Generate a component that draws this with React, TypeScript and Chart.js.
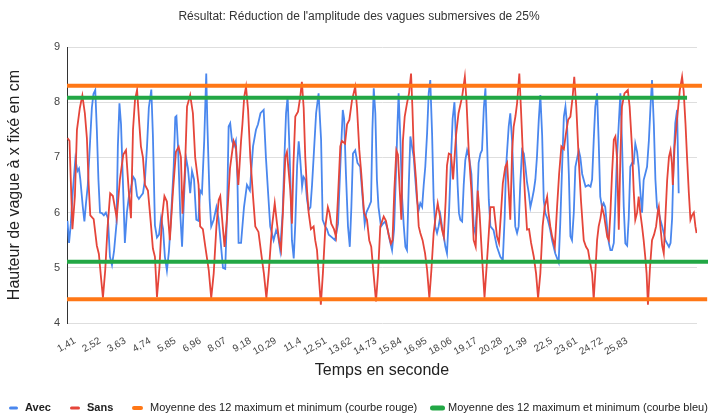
import React, { useEffect, useRef } from "react";
import { Chart, registerables } from "chart.js";

Chart.register(...registerables);

const SUBTITLE = "Résultat: Réduction de l'amplitude des vagues submersives de 25%";
const X_TITLE = "Temps en seconde";
const Y_TITLE = "Hauteur de vague à x fixé en cm";

const LEGEND_LABELS = [
  "Avec",
  "Sans",
  "Moyenne des 12 maximum et minimum (courbe rouge)",
  "Moyenne des 12 maximum et minimum (courbe bleu)",
];

const tickValues = [1.41, 2.52, 3.63, 4.74, 5.85, 6.96, 8.07, 9.18, 10.29, 11.4, 12.51, 13.62, 14.73, 15.84, 16.95, 18.06, 19.17, 20.28, 21.39, 22.5, 23.61, 24.72, 25.83];
const tickLabels = ["1,41", "2,52", "3,63", "4,74", "5,85", "6,96", "8,07", "9,18", "10,29", "11,4", "12,51", "13,62", "14,73", "15,84", "16,95", "18,06", "19,17", "20,28", "21,39", "22,5", "23,61", "24,72", "25,83"];

const X_MIN = 1.06;
const X_MAX = 28.93;
const Y_MIN = 4;
const Y_MAX = 9;

// [temps (s), hauteur (cm)]
const avecPoints: [number, number][] = [
  [1.08, 5.85], [1.15, 5.45], [1.23, 5.8], [1.32, 6.4], [1.43, 6.97], [1.52, 6.75], [1.59, 6.8], [1.65, 6.6], [1.76, 6.1], [1.83, 5.84],
  [1.90, 6.17], [1.98, 6.5], [2.07, 7.2], [2.16, 7.9], [2.23, 8.15], [2.31, 8.22], [2.38, 7.5], [2.45, 6.6], [2.52, 6.0], [2.60, 5.99],
  [2.69, 5.95], [2.78, 6.0], [2.87, 5.9], [2.96, 5.2], [3.05, 5.05], [3.14, 5.3], [3.25, 5.8], [3.31, 7.2], [3.38, 7.98], [3.45, 7.6],
  [3.53, 6.6], [3.62, 5.45], [3.71, 6.0], [3.80, 6.3], [3.89, 6.45], [3.99, 6.65], [4.07, 6.6], [4.16, 6.3], [4.24, 6.25], [4.33, 6.3],
  [4.42, 6.35], [4.51, 6.6], [4.60, 7.2], [4.68, 7.9], [4.79, 8.23], [4.86, 7.4], [4.95, 5.77], [5.04, 5.55], [5.13, 5.6], [5.22, 5.9],
  [5.31, 5.7], [5.39, 5.2], [5.48, 4.95], [5.57, 5.3], [5.66, 5.9], [5.78, 6.83], [5.85, 7.73], [5.90, 7.75], [5.97, 7.2], [6.07, 5.99],
  [6.15, 5.38], [6.23, 6.2], [6.32, 7.01], [6.41, 6.8], [6.51, 6.35], [6.59, 6.75], [6.68, 6.6], [6.78, 5.87], [6.87, 5.85], [6.95, 6.4],
  [7.03, 6.35], [7.13, 7.3], [7.22, 8.52], [7.27, 7.6], [7.37, 6.23], [7.44, 5.75], [7.55, 5.87], [7.67, 6.1], [7.76, 5.9], [7.85, 5.5],
  [7.96, 5.0], [8.06, 4.98], [8.14, 6.0], [8.21, 7.56], [8.28, 7.62], [8.36, 7.3], [8.45, 7.2], [8.53, 7.3], [8.60, 6.6], [8.65, 5.45],
  [8.76, 5.45], [8.89, 6.1], [9.02, 6.5], [9.15, 6.4], [9.29, 7.2], [9.42, 7.5], [9.51, 7.6], [9.62, 7.8], [9.76, 7.86], [9.86, 7.0],
  [9.95, 6.4], [10.05, 5.75], [10.20, 5.5], [10.31, 5.68], [10.39, 5.6], [10.49, 5.32], [10.60, 6.0], [10.69, 7.13], [10.75, 7.8], [10.82, 8.1],
  [10.88, 7.4], [10.95, 6.5], [11.01, 5.5], [11.09, 5.17], [11.16, 5.8], [11.24, 6.85], [11.31, 7.29], [11.38, 6.95], [11.46, 6.47], [11.52, 6.65],
  [11.60, 6.6], [11.68, 6.23], [11.75, 6.05], [11.83, 6.1], [11.90, 6.5], [11.97, 7.0], [12.08, 7.8], [12.19, 8.16], [12.30, 7.32], [12.37, 5.87],
  [12.48, 5.75], [12.56, 5.7], [12.64, 5.6], [12.78, 5.55], [12.92, 5.5], [13.05, 5.8], [13.15, 6.83], [13.26, 7.86], [13.32, 7.7], [13.40, 6.7],
  [13.49, 5.75], [13.57, 5.38], [13.64, 6.1], [13.71, 7.07], [13.81, 7.13], [13.91, 6.9], [14.03, 6.83], [14.13, 6.3], [14.23, 5.8], [14.30, 6.0],
  [14.41, 6.1], [14.51, 6.2], [14.57, 7.5], [14.63, 8.25], [14.70, 7.8], [14.77, 6.6], [14.84, 6.1], [14.95, 5.75], [15.04, 5.8], [15.14, 5.84],
  [15.24, 5.7], [15.34, 5.5], [15.44, 5.32], [15.53, 5.7], [15.62, 6.8], [15.68, 7.6], [15.73, 8.16], [15.81, 7.3], [15.88, 6.3], [15.96, 5.75],
  [16.03, 5.38], [16.10, 5.32], [16.18, 6.5], [16.25, 7.38], [16.32, 7.2], [16.40, 7.0], [16.47, 6.6], [16.54, 6.23], [16.62, 6.05], [16.69, 6.17],
  [16.77, 6.1], [16.84, 6.5], [16.91, 6.83], [16.99, 7.44], [17.06, 8.16], [17.13, 8.4], [17.21, 7.44], [17.28, 6.23], [17.35, 5.75], [17.43, 5.63],
  [17.50, 5.75], [17.58, 5.95], [17.65, 5.75], [17.73, 5.56], [17.80, 5.38], [17.87, 5.26], [17.96, 6.0], [18.05, 7.0], [18.12, 7.7], [18.20, 8.0],
  [18.27, 7.3], [18.34, 6.5], [18.40, 5.99], [18.46, 5.87], [18.54, 5.84], [18.61, 6.5], [18.68, 6.95], [18.76, 7.13], [18.85, 7.0], [18.95, 6.7],
  [19.05, 5.75], [19.12, 5.63], [19.20, 6.1], [19.27, 6.9], [19.35, 7.07], [19.42, 7.13], [19.50, 7.9], [19.57, 8.25], [19.64, 7.3], [19.72, 6.23],
  [19.79, 5.75], [19.93, 5.68], [20.08, 5.38], [20.23, 5.2], [20.34, 5.14], [20.42, 5.9], [20.48, 6.8], [20.60, 7.56], [20.67, 7.8], [20.75, 7.3],
  [20.82, 6.5], [20.89, 5.75], [20.97, 5.63], [21.04, 5.75], [21.11, 6.5], [21.19, 7.13], [21.27, 7.07], [21.34, 6.83], [21.41, 6.55], [21.49, 6.35],
  [21.56, 6.1], [21.63, 6.23], [21.71, 6.4], [21.78, 6.6], [21.85, 7.01], [21.93, 7.68], [22.00, 8.13], [22.08, 7.4], [22.15, 6.23], [22.22, 5.99],
  [22.33, 5.87], [22.43, 5.7], [22.52, 5.5], [22.66, 5.26], [22.81, 5.1], [22.88, 5.8], [22.96, 6.8], [23.04, 7.74], [23.11, 7.92], [23.18, 7.6],
  [23.26, 6.7], [23.33, 5.57], [23.40, 5.5], [23.48, 6.0], [23.55, 6.83], [23.70, 7.13], [23.77, 7.0], [23.85, 6.7], [24.00, 6.47], [24.13, 6.5],
  [24.22, 6.47], [24.29, 6.6], [24.36, 7.3], [24.43, 7.92], [24.51, 8.16], [24.58, 7.3], [24.65, 6.29], [24.73, 6.1], [24.80, 6.17], [24.87, 6.1],
  [24.95, 5.75], [25.03, 5.45], [25.10, 5.32], [25.17, 5.32], [25.25, 5.45], [25.32, 6.2], [25.39, 7.0], [25.47, 7.62], [25.54, 8.16], [25.61, 7.3],
  [25.69, 6.1], [25.76, 5.44], [25.84, 5.4], [25.91, 5.9], [25.98, 6.83], [26.06, 6.9], [26.13, 6.89], [26.20, 7.25], [26.28, 7.1], [26.35, 6.83],
  [26.42, 6.4], [26.50, 6.0], [26.57, 6.59], [26.64, 6.7], [26.72, 6.83], [26.80, 7.3], [26.87, 7.9], [26.94, 8.4], [27.02, 7.6], [27.09, 6.6],
  [27.16, 6.1], [27.24, 6.0], [27.31, 5.87], [27.39, 5.75], [27.53, 5.5], [27.69, 5.38], [27.76, 5.45], [27.83, 5.9], [27.90, 7.0], [27.97, 7.62],
  [28.05, 7.86], [28.12, 6.35],
];

const sansPoints: [number, number][] = [
  [1.08, 7.35], [1.17, 7.3], [1.30, 5.7], [1.41, 6.3], [1.50, 7.5], [1.63, 7.9], [1.74, 8.12], [1.85, 7.8], [1.94, 7.35], [2.02, 6.5],
  [2.09, 5.95], [2.24, 5.88], [2.38, 5.4], [2.47, 5.25], [2.57, 4.8], [2.65, 4.46], [2.75, 4.95], [2.85, 5.7], [2.97, 6.35], [3.09, 6.3],
  [3.26, 5.9], [3.40, 6.6], [3.55, 7.05], [3.67, 7.13], [3.79, 6.4], [3.89, 5.9], [3.98, 7.5], [4.07, 8.05], [4.16, 8.22], [4.26, 7.6],
  [4.33, 7.2], [4.42, 7.0], [4.51, 6.5], [4.64, 6.4], [4.77, 5.8], [4.86, 5.35], [4.95, 5.2], [5.04, 4.47], [5.15, 5.0], [5.26, 5.9],
  [5.37, 6.3], [5.48, 6.2], [5.61, 5.5], [5.75, 6.4], [5.88, 7.1], [6.00, 7.19], [6.10, 7.0], [6.17, 5.98], [6.28, 6.8], [6.37, 7.92],
  [6.51, 8.13], [6.63, 7.8], [6.73, 7.0], [6.88, 6.5], [6.95, 5.75], [7.07, 5.7], [7.18, 5.38], [7.33, 4.96], [7.44, 4.45], [7.55, 4.9],
  [7.67, 5.75], [7.77, 6.23], [7.84, 6.3], [7.95, 5.75], [8.03, 5.38], [8.14, 5.9], [8.27, 6.8], [8.43, 7.3], [8.53, 7.2], [8.64, 6.5],
  [8.76, 7.3], [8.82, 7.6], [8.90, 8.1], [8.98, 8.28], [9.07, 7.86], [9.17, 7.0], [9.29, 6.29], [9.39, 5.75], [9.53, 5.65], [9.69, 5.14],
  [9.77, 4.9], [9.88, 4.45], [9.98, 4.9], [10.13, 5.75], [10.25, 6.17], [10.35, 5.8], [10.44, 5.5], [10.53, 5.32], [10.61, 6.0], [10.72, 7.01],
  [10.79, 7.1], [10.94, 6.4], [11.01, 5.8], [11.08, 6.9], [11.16, 7.74], [11.28, 7.83], [11.38, 8.1], [11.45, 8.37], [11.53, 7.9], [11.60, 7.01],
  [11.68, 6.4], [11.75, 6.0], [11.85, 5.7], [11.97, 5.75], [12.04, 5.5], [12.12, 5.32], [12.19, 4.9], [12.29, 4.33], [12.38, 4.9], [12.49, 5.75],
  [12.60, 6.1], [12.67, 6.0], [12.75, 5.8], [12.87, 5.7], [12.96, 5.56], [13.05, 6.3], [13.15, 7.2], [13.22, 7.3], [13.36, 7.25], [13.45, 7.6],
  [13.55, 7.68], [13.67, 8.04], [13.81, 8.28], [13.89, 7.9], [13.99, 7.14], [14.08, 6.7], [14.20, 6.0], [14.33, 5.87], [14.43, 5.5], [14.52, 5.38],
  [14.62, 4.9], [14.73, 4.39], [14.82, 4.9], [14.92, 5.75], [15.07, 5.93], [15.17, 5.85], [15.29, 5.6], [15.39, 5.44], [15.46, 5.5], [15.54, 6.4],
  [15.63, 7.13], [15.70, 7.05], [15.78, 6.4], [15.85, 5.87], [15.92, 7.3], [16.00, 7.74], [16.10, 7.98], [16.19, 8.16], [16.28, 8.52], [16.34, 7.9],
  [16.40, 7.13], [16.50, 6.6], [16.62, 5.75], [16.69, 5.63], [16.79, 5.5], [16.90, 5.26], [16.99, 4.96], [17.09, 4.45], [17.18, 4.96], [17.28, 5.63],
  [17.36, 5.9], [17.46, 6.17], [17.55, 5.95], [17.65, 5.69], [17.73, 5.56], [17.81, 6.2], [17.87, 6.85], [17.95, 7.07], [18.05, 7.05], [18.14, 6.6],
  [18.27, 7.4], [18.38, 7.8], [18.54, 8.1], [18.66, 8.46], [18.73, 8.04], [18.83, 7.13], [18.95, 6.4], [19.05, 5.5], [19.14, 5.38], [19.23, 6.4],
  [19.31, 6.0], [19.42, 5.2], [19.53, 4.46], [19.62, 5.0], [19.72, 5.63], [19.79, 6.1], [19.94, 6.1], [20.08, 5.57], [20.17, 5.45], [20.26, 6.0],
  [20.34, 6.53], [20.45, 6.83], [20.53, 6.9], [20.60, 6.4], [20.67, 5.87], [20.75, 7.1], [20.82, 7.56], [20.90, 7.75], [20.97, 7.98], [21.07, 8.52],
  [21.14, 7.9], [21.22, 7.13], [21.32, 6.3], [21.41, 5.69], [21.50, 5.7], [21.59, 5.45], [21.71, 5.2], [21.81, 4.9], [21.90, 4.45], [22.00, 4.9],
  [22.10, 5.75], [22.19, 6.1], [22.30, 6.29], [22.36, 6.0], [22.44, 5.75], [22.52, 5.57], [22.64, 5.38], [22.74, 6.1], [22.83, 6.7], [22.93, 7.2],
  [23.04, 7.15], [23.12, 7.4], [23.23, 7.68], [23.33, 7.74], [23.43, 8.1], [23.50, 8.46], [23.59, 7.92], [23.70, 6.95], [23.80, 6.2], [23.92, 5.5],
  [24.02, 5.38], [24.11, 5.32], [24.20, 5.1], [24.29, 4.9], [24.36, 4.42], [24.43, 4.9], [24.51, 5.5], [24.58, 5.75], [24.66, 5.9], [24.73, 6.1],
  [24.82, 5.95], [24.89, 5.75], [24.96, 5.56], [25.03, 5.5], [25.10, 6.0], [25.17, 6.7], [25.25, 7.32], [25.32, 7.38], [25.39, 7.0], [25.47, 5.69],
  [25.54, 7.0], [25.61, 7.92], [25.72, 8.16], [25.87, 8.22], [25.95, 7.92], [26.06, 7.14], [26.13, 6.4], [26.20, 5.87], [26.28, 6.0], [26.35, 6.29],
  [26.42, 6.0], [26.50, 5.75], [26.57, 5.5], [26.64, 5.2], [26.70, 4.9], [26.76, 4.33], [26.85, 5.0], [26.94, 5.5], [27.03, 5.6], [27.12, 5.75],
  [27.19, 6.0], [27.24, 6.1], [27.31, 5.75], [27.39, 5.4], [27.46, 5.26], [27.53, 5.9], [27.61, 6.59], [27.69, 7.01], [27.76, 7.13], [27.82, 6.9],
  [27.86, 6.5], [27.94, 7.2], [28.05, 7.7], [28.17, 8.22], [28.27, 8.46], [28.34, 8.2], [28.42, 7.62], [28.49, 7.0], [28.57, 6.35], [28.64, 5.87],
  [28.71, 5.95], [28.79, 6.0], [28.86, 5.75], [28.91, 5.63],
];

// Moyennes des 12 maximum et minimum
const moyMaxRouge = 8.3;
const moyMinRouge = 4.43;
const moyMaxBleu = 8.08;
const moyMinBleu = 5.11;
// extent (s) of the drawn mean lines
const moyMaxRougeEnd = 29.15;
const moyMinRougeEnd = 29.38;
const moyMaxBleuEnd = 28.49;
const moyMinBleuEnd = 29.42;

const BLUE = "#4a87ee";
const RED = "#e5453a";
const ORANGE = "#ff7716";
const GREEN = "#22a745";
const FONT = '"Liberation Sans", Arial, sans-serif';

const hline = (y: number, end: number) => [
  { x: X_MIN, y },
  { x: end, y },
];

const textPlugin = {
  id: "extraTexts",
  afterDraw(chart: any) {
    const ctx = chart.ctx as CanvasRenderingContext2D;
    const area = chart.chartArea;
    ctx.save();
    ctx.textBaseline = "middle";
    ctx.textAlign = "center";
    ctx.fillStyle = "#333";
    ctx.font = `12px ${FONT}`;
    ctx.fillText(SUBTITLE, 359, 17);

    ctx.fillStyle = "#222";
    ctx.font = `16px ${FONT}`;
    ctx.fillText(X_TITLE, (area.left + area.right) / 2, 371);

    // legend
    const items = [
      { label: LEGEND_LABELS[0], color: BLUE, bold: true, mx: 9, mw: 9, mh: 3, tx: 25 },
      { label: LEGEND_LABELS[1], color: RED, bold: true, mx: 70, mw: 10, mh: 3, tx: 87 },
      { label: LEGEND_LABELS[2], color: ORANGE, bold: false, mx: 132, mw: 11, mh: 4, tx: 150 },
      { label: LEGEND_LABELS[3], color: GREEN, bold: false, mx: 430, mw: 15, mh: 5, tx: 448 },
    ];
    const ly = 408;
    ctx.textAlign = "left";
    for (const it of items) {
      ctx.strokeStyle = it.color;
      ctx.lineWidth = it.mh;
      ctx.lineCap = "round";
      ctx.beginPath();
      ctx.moveTo(it.mx + it.mh / 2, ly);
      ctx.lineTo(it.mx + it.mw - it.mh / 2, ly);
      ctx.stroke();
      ctx.fillStyle = "#222";
      ctx.font = `${it.bold ? "bold " : ""}11px ${FONT}`;
      ctx.fillText(it.label, it.tx, ly);
    }
    ctx.restore();
  },
};

export default function App() {
  const canvasRef = useRef<HTMLCanvasElement | null>(null);

  useEffect(() => {
    if (!canvasRef.current) return;
    const chart = new Chart(canvasRef.current, {
      type: "line",
      data: {
        datasets: [
          {
            label: LEGEND_LABELS[2],
            data: hline(moyMaxRouge, moyMaxRougeEnd),
            borderColor: ORANGE,
            borderWidth: 4,
            pointRadius: 0,
            clip: false as any,
            order: 0,
          },
          {
            label: LEGEND_LABELS[2] + " min",
            data: hline(moyMinRouge, moyMinRougeEnd),
            borderColor: ORANGE,
            borderWidth: 4,
            pointRadius: 0,
            clip: false as any,
            order: 0,
          },
          {
            label: LEGEND_LABELS[3],
            data: hline(moyMaxBleu, moyMaxBleuEnd),
            borderColor: GREEN,
            borderWidth: 4,
            pointRadius: 0,
            clip: false as any,
            order: 0,
          },
          {
            label: LEGEND_LABELS[3] + " min",
            data: hline(moyMinBleu, moyMinBleuEnd),
            borderColor: GREEN,
            borderWidth: 4,
            pointRadius: 0,
            clip: false as any,
            order: 0,
          },
          {
            label: LEGEND_LABELS[1],
            data: sansPoints.map(([x, y]) => ({ x, y })),
            borderColor: RED,
            borderWidth: 1.8,
            pointRadius: 0,
            tension: 0,
            order: 1,
          },
          {
            label: LEGEND_LABELS[0],
            data: avecPoints.map(([x, y]) => ({ x, y })),
            borderColor: BLUE,
            borderWidth: 1.8,
            pointRadius: 0,
            tension: 0,
            order: 2,
          },
        ],
      },
      options: {
        animation: false,
        responsive: false,
        devicePixelRatio: 1,
        layout: { padding: { top: 47, right: 11, left: 0, bottom: 0 } },
        plugins: {
          legend: { display: false },
          tooltip: { enabled: false },
          title: { display: false },
        },
        scales: {
          x: {
            type: "linear",
            min: X_MIN,
            max: X_MAX,
            afterBuildTicks: (axis: any) => {
              axis.ticks = tickValues.map((v) => ({ value: v }));
            },
            afterFit: (scale: any) => {
              scale.height = 94;
            },
            grid: { display: false },
            border: { display: false },
            ticks: {
              autoSkip: false,
              minRotation: 30,
              maxRotation: 30,
              padding: 4,
              color: "#444",
              font: { family: FONT, size: 10 },
              callback: (_v: any, i: number) => tickLabels[i],
            },
          },
          y: {
            min: Y_MIN,
            max: Y_MAX,
            afterFit: (scale: any) => {
              scale.width = 67;
            },
            ticks: {
              stepSize: 1,
              padding: 7,
              color: "#444",
              font: { family: FONT, size: 11 },
            },
            grid: { color: "#dedede", drawTicks: false },
            border: { display: true, color: "#333", width: 1 },
            title: {
              display: true,
              text: Y_TITLE,
              color: "#222",
              font: { family: FONT, size: 16 },
              padding: { top: 5, bottom: 0 },
            },
          },
        },
      },
      plugins: [textPlugin],
    });
    return () => chart.destroy();
  }, []);

  return (
    <div style={{ position: "fixed", left: 0, top: 0, width: 708, height: 417, background: "#fff" }}>
      <canvas ref={canvasRef} width={708} height={417} style={{ width: 708, height: 417, display: "block" }} />
    </div>
  );
}
